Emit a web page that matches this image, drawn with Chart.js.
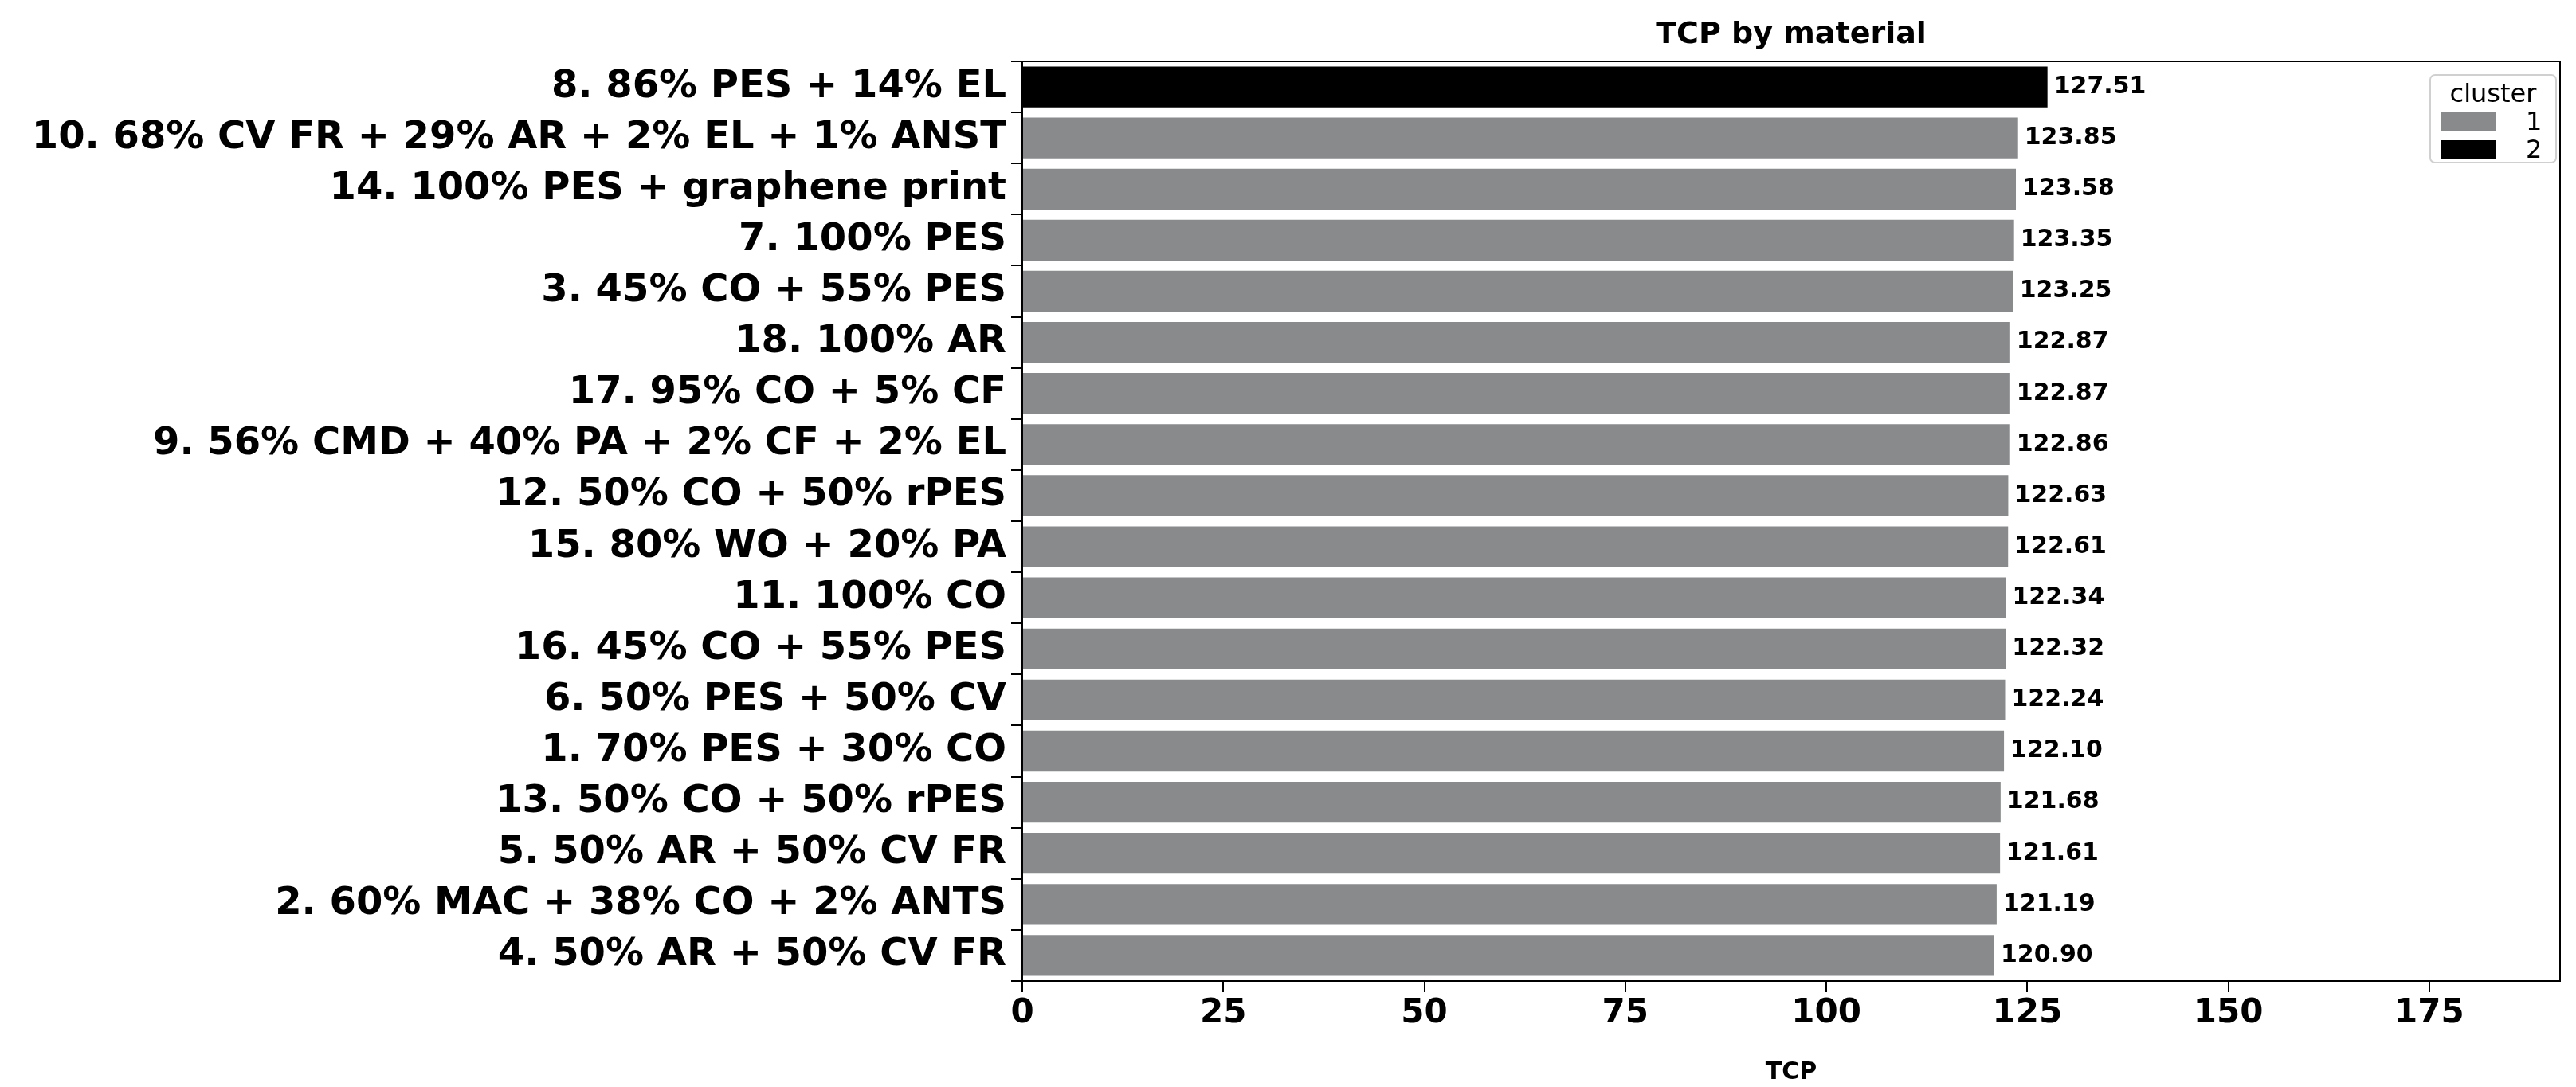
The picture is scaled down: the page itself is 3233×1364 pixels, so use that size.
<!DOCTYPE html>
<html><head><meta charset="utf-8">
<script src="https://cdn.jsdelivr.net/npm/chart.js@4"></script>
<style>html,body{margin:0;padding:0;background:#fff}</style>
</head><body>
<canvas id="c" width="3233" height="1364"></canvas>
<script>
const categories = ["8. 86% PES + 14% EL","10. 68% CV FR + 29% AR + 2% EL + 1% ANST","14. 100% PES + graphene print","7. 100% PES","3. 45% CO + 55% PES","18. 100% AR","17. 95% CO + 5% CF","9. 56% CMD + 40% PA + 2% CF + 2% EL","12. 50% CO + 50% rPES","15. 80% WO + 20% PA","11. 100% CO","16. 45% CO + 55% PES","6. 50% PES + 50% CV","1. 70% PES + 30% CO","13. 50% CO + 50% rPES","5. 50% AR + 50% CV FR","2. 60% MAC + 38% CO + 2% ANTS","4. 50% AR + 50% CV FR"];
const tcp = [127.51,123.85,123.58,123.35,123.25,122.87,122.87,122.86,122.63,122.61,122.34,122.32,122.24,122.10,121.68,121.61,121.19,120.90];
const cluster = [2,1,1,1,1,1,1,1,1,1,1,1,1,1,1,1,1,1];
const xTicks = [0,25,50,75,100,125,150,175];
const clusterColors = {1:"#888a8c",2:"#000000"};
const F = "'DejaVu Sans', sans-serif";

const datasets = [1,2].map(k => ({
  label: String(k),
  data: tcp.map((v,i)=> cluster[i]===k ? v : null),
  backgroundColor: clusterColors[k],
  barPercentage: 0.8, categoryPercentage: 1.0
}));

const deco = {
  id:'deco',
  afterDatasetsDraw(chart){
    const ctx = chart.ctx, a = chart.chartArea;
    ctx.save();
    ctx.font = "bold 30px "+F; ctx.fillStyle="#000"; ctx.textBaseline="middle"; ctx.textAlign="left";
    chart.data.datasets.forEach((ds,di)=>{
      chart.getDatasetMeta(di).data.forEach((el,i)=>{
        if (ds.data[i]==null) return;
        ctx.fillText(ds.data[i].toFixed(2), el.x+8, el.y);
      });
    });
    ctx.strokeStyle="#000"; ctx.lineWidth=2;
    ctx.strokeRect(a.left, a.top, a.right-a.left, a.bottom-a.top);
    ctx.font="bold 38px "+F; ctx.textAlign="center"; ctx.textBaseline="bottom";
    ctx.fillText("TCP by material",(a.left+a.right)/2, a.top-14);
    const lx=3050, ly=94, lw=158, lh=110;
    ctx.fillStyle="rgba(255,255,255,0.8)"; ctx.strokeStyle="#d0d0d0"; ctx.lineWidth=2;
    ctx.beginPath(); ctx.roundRect(lx,ly,lw,lh,6); ctx.fill(); ctx.stroke();
    ctx.fillStyle="#000"; ctx.font="32px "+F; ctx.textAlign="center"; ctx.textBaseline="middle";
    ctx.fillText("cluster", lx+lw/2, ly+26);
    [1,2].forEach((k,j)=>{
      const y = ly+59+j*35;
      ctx.fillStyle=clusterColors[k]; ctx.fillRect(lx+13, y-12, 69, 24);
      ctx.fillStyle="#000"; ctx.textAlign="left"; ctx.fillText(String(k), lx+120, y+2);
    });
    ctx.restore();
  }
};

new Chart(document.getElementById('c'), {
  type:'bar',
  data:{labels:categories, datasets},
  options:{
    indexAxis:'y', responsive:false, animation:false, devicePixelRatio:1,
    grouped:false,
    layout:{padding:{top:77,right:20,left:0,bottom:0}},
    plugins:{legend:{display:false}, tooltip:{enabled:false}},
    scales:{
      x:{min:0,max:127.51*1.5,
         afterBuildTicks(s){ s.ticks = xTicks.map(v=>({value:v})); },
         afterFit(s){ s.height = 133; },
         grid:{drawOnChartArea:false, tickLength:14, color:'#000', lineWidth:2},
         border:{color:'#000', width:2},
         ticks:{color:'#000', font:{family:F, size:42, weight:'bold'}, padding:2, maxRotation:0},
         title:{display:true, text:'TCP', color:'#000', font:{family:F, size:30, weight:'bold'}, padding:{top:0,bottom:0}}
      },
      y:{
         afterFit(s){ s.width = 1283; },
         grid:{drawOnChartArea:false, tickLength:14, color:'#000', lineWidth:2},
         border:{color:'#000', width:2},
         ticks:{color:'#000', font:{family:F, size:48, weight:'bold'}, padding:6, autoSkip:false}
      }
    }
  },
  plugins:[deco]
});
</script>
</body></html>
